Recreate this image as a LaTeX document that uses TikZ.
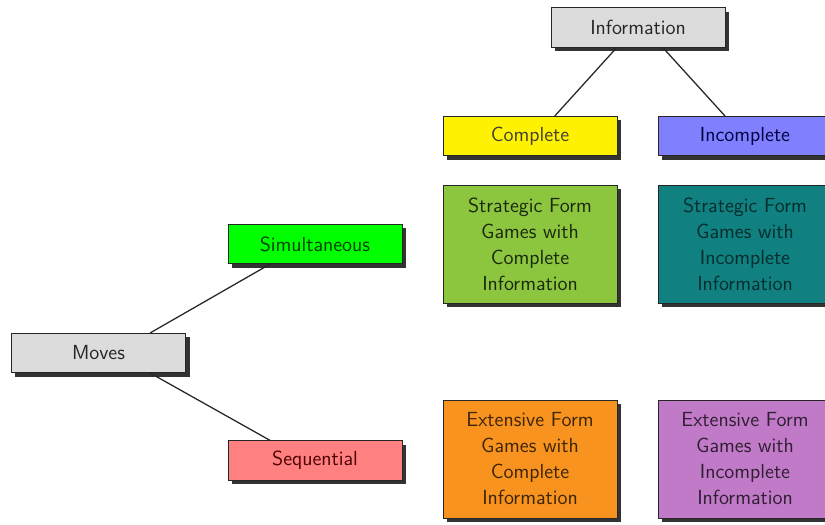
\documentclass[tikz,border=0pt]{standalone}
\usetikzlibrary{shadows}
\definecolor{stratc}{RGB}{140,198,63}
\definecolor{strati}{RGB}{16,128,128}
\definecolor{extc}{RGB}{247,147,30}
\definecolor{exti}{RGB}{192,122,200}
\definecolor{infog}{RGB}{220,220,220}
\tikzset{
  box/.style={draw=black!85, line width=0.6pt, minimum width=4.35cm, align=center,
    font=\sffamily\fontsize{14.5}{18.5}\selectfont,
    drop shadow={shadow xshift=0.1cm, shadow yshift=-0.1cm, fill=black!80, opacity=1}},
  small/.style={box, minimum height=0.98cm},
  big/.style={box, minimum height=2.95cm},
  link/.style={draw=black!85, line width=0.9pt}
}
\begin{document}
\begin{tikzpicture}[x=1cm,y=1cm]
\clip (0,0) rectangle (20.625,13.125);
\fill[white] (0,0) rectangle (20.625,13.125);
% x = px/40, y = (525-py)/40
\node[small, fill=infog, text=black!85] (info) at (15.95,12.4375) {Information};
\node[small, fill=yellow, text=yellow!15!black] (comp) at (13.25,9.725) {Complete};
\node[small, fill=blue!50, text=blue!25!black] (incomp) at (18.625,9.725) {Incomplete};
\node[big, fill=stratc, text=stratc!20!black] (sc) at (13.25,7.025) {Strategic Form\\Games with\\Complete\\Information};
\node[big, fill=strati, text=strati!35!black] (si) at (18.625,7.025) {Strategic Form\\Games with\\Incomplete\\Information};
\node[big, fill=extc, text=extc!25!black] (ec) at (13.25,1.65) {Extensive Form\\Games with\\Complete\\Information};
\node[big, fill=exti, text=exti!25!black] (ei) at (18.625,1.65) {Extensive Form\\Games with\\Incomplete\\Information};
\node[small, fill=green, text=green!25!black] (sim) at (7.875,7.025) {Simultaneous};
\node[small, fill=infog, text=black!85] (moves) at (2.4625,4.3) {Moves};
\node[small, fill=red!50, text=red!30!black] (seq) at (7.875,1.6125) {Sequential};
\draw[link] ([xshift=-0.53cm]info.south) -- ([xshift=0.62cm]comp.north);
\draw[link] ([xshift=0.62cm]info.south) -- ([xshift=-0.5cm]incomp.north);
\draw[link] ([xshift=1.29cm]moves.north) -- ([xshift=-1.12cm]sim.south);
\draw[link] ([xshift=1.29cm]moves.south) -- ([xshift=-1.12cm]seq.north);
\end{tikzpicture}
\end{document}
